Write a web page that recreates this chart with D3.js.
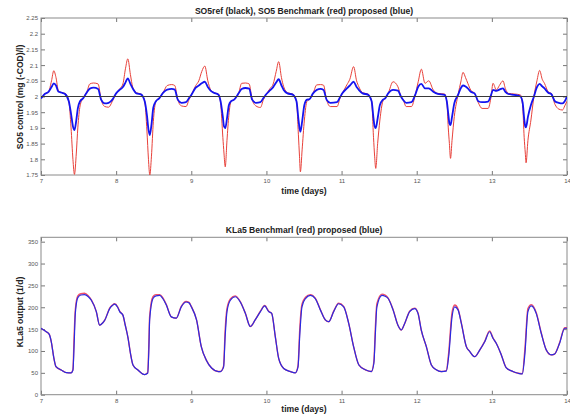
<!DOCTYPE html>
<html>
<head>
<meta charset="utf-8">
<script src="https://cdn.jsdelivr.net/npm/d3@7"></script>
<style>
body { margin: 0; background: #fff; }
svg { font-family: "Liberation Sans", Arial, sans-serif; }
.tick text { fill: #555; font-size: 6px; }
.domain { display: none; }
.tick line { stroke: #777; }
.title { font-size: 8.6px; font-weight: bold; fill: #222; text-anchor: middle; }
</style>
</head>
<body>
<div class="svg-wrap"></div>
<script>
// tick labels
const dayTicks = [7, 8, 9, 10, 11, 12, 13, 14];
const so5Ticks = [1.75, 1.8, 1.85, 1.9, 1.95, 2, 2.05, 2.1, 2.15, 2.2, 2.25];
const klaTicks = [0, 50, 100, 150, 200, 250, 300, 350];

// SO5 reference (black)
const so5RefTimes = [7, 14];
const so5Ref = [2, 2];

// SO5 benchmark (red) and proposed (blue), one line per day
const so5Times = [
  7.00, 7.05, 7.10, 7.14, 7.17, 7.20, 7.23, 7.28, 7.32, 7.37, 7.40, 7.425, 7.445, 7.47, 7.49, 7.52, 7.56, 7.61, 7.65, 7.70, 7.76, 7.80, 7.85, 7.90, 7.95,
  8.00, 8.05, 8.09, 8.125, 8.155, 8.19, 8.22, 8.27, 8.33, 8.38, 8.41, 8.43, 8.448, 8.47, 8.495, 8.53, 8.57, 8.63, 8.68, 8.74, 8.78, 8.82, 8.87, 8.93, 8.97,
  9.00, 9.06, 9.10, 9.14, 9.18, 9.22, 9.26, 9.30, 9.36, 9.39, 9.42, 9.435, 9.452, 9.475, 9.50, 9.53, 9.57, 9.63, 9.67, 9.72, 9.77, 9.81, 9.86, 9.92, 9.96,
  10.00, 10.05, 10.09, 10.13, 10.163, 10.20, 10.23, 10.28, 10.35, 10.40, 10.425, 10.44, 10.452, 10.475, 10.505, 10.54, 10.57, 10.62, 10.67, 10.72, 10.76, 10.80, 10.85, 10.94, 10.98,
  11.01, 11.07, 11.11, 11.16, 11.20, 11.23, 11.28, 11.35, 11.40, 11.425, 11.44, 11.455, 11.48, 11.51, 11.55, 11.58, 11.62, 11.685, 11.75, 11.79, 11.82, 11.86, 11.93, 11.98,
  12.02, 12.062, 12.11, 12.16, 12.22, 12.28, 12.37, 12.40, 12.42, 12.435, 12.45, 12.47, 12.50, 12.55, 12.59, 12.616, 12.65, 12.68, 12.72, 12.77, 12.82, 12.87, 12.95, 12.99,
  13.015, 13.06, 13.10, 13.148, 13.18, 13.22, 13.30, 13.38, 13.41, 13.43, 13.445, 13.455, 13.48, 13.52, 13.56, 13.60, 13.636, 13.67, 13.70, 13.75, 13.79, 13.84, 13.89, 13.94, 13.97, 14.00
];
const so5Bench = [
  1.995, 2.008, 2.015, 2.05, 2.082, 2.06, 2.02, 2.012, 2.01, 1.985, 1.90, 1.80, 1.752, 1.82, 1.90, 1.97, 1.995, 2.015, 2.04, 2.043, 2.040, 1.99, 1.968, 1.966, 1.985,
  2.01, 2.025, 2.04, 2.09, 2.12, 2.07, 2.03, 2.012, 2.008, 1.985, 1.89, 1.80, 1.75, 1.81, 1.92, 1.985, 1.995, 2.015, 2.035, 2.038, 2.035, 1.99, 1.97, 1.968, 1.99,
  2.005, 2.035, 2.05, 2.08, 2.097, 2.05, 2.02, 2.012, 2.008, 1.98, 1.87, 1.82, 1.776, 1.86, 1.94, 1.985, 1.99, 2.01, 2.042, 2.043, 2.04, 1.99, 1.97, 1.965, 1.99,
  2.008, 2.026, 2.04, 2.08, 2.111, 2.06, 2.031, 2.012, 2.008, 1.985, 1.88, 1.81, 1.76, 1.83, 1.925, 1.985, 1.99, 2.01, 2.037, 2.038, 2.036, 1.99, 1.968, 1.968, 1.995,
  2.01, 2.037, 2.055, 2.095, 2.05, 2.031, 2.012, 2.008, 1.985, 1.87, 1.81, 1.771, 1.85, 1.925, 1.985, 1.994, 2.01, 2.047, 2.031, 2.0, 1.989, 1.968, 1.968, 2.005,
  2.047, 2.087, 2.042, 2.05, 2.021, 2.01, 2.008, 1.985, 1.90, 1.85, 1.803, 1.86, 1.936, 2.005, 2.05, 2.077, 2.06, 2.042, 2.02, 2.01, 1.98, 1.962, 1.962, 2.0,
  2.042, 2.021, 2.035, 2.05, 2.025, 2.01, 2.008, 2.005, 1.97, 1.87, 1.82, 1.789, 1.86, 1.925, 2.0, 2.05, 2.083, 2.055, 2.042, 2.015, 2.01, 1.975, 1.96, 1.957, 1.97, 1.985
];
const so5Prop = [
  1.994, 2.008, 2.015, 2.03, 2.042, 2.035, 2.016, 2.012, 2.008, 1.985, 1.945, 1.905, 1.893, 1.925, 1.962, 1.985, 1.994, 2.013, 2.025, 2.028, 2.024, 1.99, 1.978, 1.98, 1.99,
  2.01, 2.022, 2.03, 2.045, 2.058, 2.04, 2.026, 2.01, 2.007, 1.985, 1.94, 1.895, 1.877, 1.91, 1.965, 1.985, 1.993, 2.013, 2.022, 2.024, 2.022, 1.99, 1.98, 1.982, 1.995,
  2.005, 2.028, 2.035, 2.042, 2.047, 2.03, 2.018, 2.012, 2.006, 1.985, 1.935, 1.905, 1.899, 1.93, 1.972, 1.985, 1.99, 2.01, 2.024, 2.027, 2.025, 1.99, 1.98, 1.982, 1.995,
  2.008, 2.02, 2.03, 2.045, 2.055, 2.035, 2.021, 2.01, 2.006, 1.985, 1.93, 1.9, 1.888, 1.92, 1.973, 1.99, 1.991, 2.01, 2.021, 2.024, 2.021, 1.99, 1.98, 1.982, 1.998,
  2.01, 2.026, 2.035, 2.047, 2.03, 2.021, 2.01, 2.006, 1.985, 1.93, 1.905, 1.899, 1.93, 1.973, 1.99, 1.994, 2.01, 2.021, 2.019, 2.0, 1.989, 1.98, 1.982, 2.005,
  2.031, 2.04, 2.026, 2.026, 2.015, 2.008, 2.005, 1.985, 1.945, 1.915, 1.909, 1.935, 1.978, 2.005, 2.028, 2.035, 2.032, 2.026, 2.015, 2.01, 1.985, 1.982, 1.984, 2.005,
  2.021, 2.018, 2.022, 2.026, 2.015, 2.008, 2.005, 2.0, 1.98, 1.93, 1.905, 1.902, 1.935, 1.973, 2.0, 2.03, 2.04, 2.032, 2.026, 2.012, 2.008, 1.985, 1.98, 1.978, 1.985, 2.0
];

// KLa5 benchmark (red) and proposed (blue)
const klaTimes = [
  7.00, 7.07, 7.11, 7.137, 7.17, 7.20, 7.27, 7.337, 7.40, 7.425, 7.44, 7.457, 7.49, 7.53, 7.58, 7.63, 7.67, 7.736, 7.78, 7.82, 7.85, 7.914, 7.95, 7.98,
  8.02, 8.047, 8.09, 8.12, 8.158, 8.19, 8.224, 8.29, 8.38, 8.42, 8.435, 8.446, 8.49, 8.53, 8.58, 8.62, 8.668, 8.734, 8.80, 8.867, 8.93, 8.97,
  9.00, 9.07, 9.133, 9.20, 9.27, 9.36, 9.387, 9.43, 9.45, 9.475, 9.52, 9.586, 9.652, 9.72, 9.785, 9.85, 9.92, 9.977,
  10.03, 10.07, 10.118, 10.163, 10.23, 10.318, 10.384, 10.42, 10.445, 10.473, 10.52, 10.585, 10.65, 10.717, 10.784, 10.83, 10.895, 10.96,
  11.028, 11.095, 11.16, 11.23, 11.316, 11.396, 11.43, 11.45, 11.47, 11.538, 11.58, 11.62, 11.685, 11.75, 11.795, 11.84, 11.906, 11.973,
  12.017, 12.06, 12.128, 12.195, 12.26, 12.327, 12.394, 12.425, 12.47, 12.506, 12.55, 12.594, 12.66, 12.705, 12.772, 12.838, 12.905, 12.97,
  13.015, 13.06, 13.126, 13.19, 13.28, 13.35, 13.405, 13.44, 13.48, 13.525, 13.59, 13.658, 13.725, 13.79, 13.835, 13.90, 13.97, 14.00
];
const klaBench = [
  152, 144, 138, 121, 85, 64, 56.5, 50.5, 50, 58, 130, 195, 226, 231, 232, 226, 217, 190, 159, 164, 171, 198, 205, 208,
  201, 191, 182, 160, 130, 95, 68, 56.5, 46, 51, 115, 180, 224, 229, 229, 222, 206, 178, 175, 202, 213, 211,
  202, 171, 110, 79, 61, 53, 53, 66, 145, 197, 219, 226, 213, 186, 156, 171, 191, 204,
  191, 186, 133, 83, 60, 53, 50, 66, 155, 207, 223, 229, 221, 195, 171, 167, 191, 209,
  202, 163, 110, 68, 57, 53, 76, 155, 208, 230, 228, 221, 195, 159, 148, 163, 191, 198,
  187, 148, 110, 68, 57, 53, 55, 95, 188, 205, 196, 164, 110, 99, 87, 102, 122, 146,
  130, 117, 91, 62, 53, 49, 48, 105, 197, 206, 188, 141, 102, 91, 93, 118, 153, 153
];
const klaProp = [
  152, 144, 138, 121, 85, 64, 56.5, 50.5, 50, 56, 110, 186, 222, 228, 229, 224, 216, 190, 159, 164, 171, 197, 204, 207,
  200, 190, 182, 160, 130, 95, 68, 56.5, 46, 49, 100, 171, 220, 226, 227, 220, 205, 178, 175, 201, 212, 210,
  201, 171, 110, 79, 61, 53, 53, 63, 130, 190, 216, 224, 212, 186, 156, 171, 190, 203,
  190, 186, 133, 83, 60, 53, 50, 63, 140, 201, 220, 227, 220, 194, 171, 167, 190, 208,
  201, 163, 110, 68, 57, 53, 72, 140, 201, 227, 225, 220, 194, 159, 148, 163, 190, 197,
  186, 148, 110, 68, 57, 53, 54, 87, 178, 201, 194, 163, 110, 99, 87, 102, 121, 144,
  129, 117, 91, 62, 53, 49, 47.5, 94, 190, 203, 186, 140, 102, 91, 93, 117, 152, 152
];

var width = 570, height = 415;
var plotLeft = 41, plotRight = 567;

var svg = d3.select(".svg-wrap")
  .append("svg")
  .attr("width", width)
  .attr("height", height)
  .style("background-color", "white");

function drawPanel(opts) {
  var x = d3.scaleLinear().domain([7, 14]).range([plotLeft, plotRight]);
  var y = d3.scaleLinear().domain(opts.yDomain).range([opts.bottom, opts.top]);
  var g = svg.append("g");

  // ticks, MATLAB style (inward, all four sides)
  g.append("g")
    .attr("transform", `translate(0,${opts.bottom})`)
    .call(d3.axisBottom(x).tickValues(dayTicks).tickFormat(d => d).tickSizeInner(-4).tickSizeOuter(0).tickPadding(4));
  g.append("g")
    .attr("transform", `translate(0,${opts.top})`)
    .call(d3.axisTop(x).tickValues(dayTicks).tickFormat("").tickSizeInner(-4).tickSizeOuter(0));
  g.append("g")
    .attr("transform", `translate(${plotLeft},0)`)
    .call(d3.axisLeft(y).tickValues(opts.ticks).tickFormat(d => String(d)).tickSizeInner(-4).tickSizeOuter(0).tickPadding(3));
  g.append("g")
    .attr("transform", `translate(${plotRight},0)`)
    .call(d3.axisRight(y).tickValues(opts.ticks).tickFormat("").tickSizeInner(-4).tickSizeOuter(0));

  g.append("rect")
    .attr("x", plotLeft)
    .attr("y", opts.top)
    .attr("width", plotRight - plotLeft)
    .attr("height", opts.bottom - opts.top)
    .attr("fill", "none")
    .attr("stroke", "#8a8a8a")
    .attr("stroke-width", 1);

  var clipId = "clip" + opts.top.toFixed(0);
  g.append("clipPath").attr("id", clipId)
    .append("rect")
    .attr("x", plotLeft).attr("y", opts.top - 1)
    .attr("width", plotRight - plotLeft).attr("height", opts.bottom - opts.top + 2);

  var line = d3.line()
    .x(d => x(d[0]))
    .y(d => y(d[1]))
    .curve(d3.curveMonotoneX);

  opts.series.forEach(s => {
    g.append("path")
      .datum(d3.zip(s.times, s.values))
      .attr("clip-path", `url(#${clipId})`)
      .attr("fill", "none")
      .attr("stroke", s.color)
      .attr("stroke-width", s.width)
      .attr("stroke-linejoin", "round")
      .attr("d", line);
  });

  svg.append("text")
    .attr("class", "title")
    .attr("x", 304)
    .attr("y", opts.top - 4)
    .text(opts.title);

  svg.append("text")
    .attr("class", "title")
    .attr("x", 304)
    .attr("y", opts.bottom + opts.xLabelGap)
    .text("time (days)");

  svg.append("text")
    .attr("class", "title")
    .attr("transform", `translate(23,${opts.yLabelMid}) rotate(-90)`)
    .text(opts.yLabel);
}

drawPanel({
  top: 18,
  bottom: 175,
  yDomain: [1.75, 2.25],
  ticks: so5Ticks,
  xLabelGap: 19,
  yLabelMid: 97,
  title: "SO5ref (black), SO5 Benchmark (red) proposed (blue)",
  yLabel: "SO5 control (mg (-COD)/l)",
  series: [
    { times: so5Times, values: so5Bench, color: "#e8413a", width: 1 },
    { times: so5Times, values: so5Prop, color: "#1414f0", width: 1.8 },
    { times: so5RefTimes, values: so5Ref, color: "#3a3a3a", width: 1 }
  ]
});

drawPanel({
  top: 237.3,
  bottom: 394.7,
  yDomain: [0, 360],
  ticks: klaTicks,
  xLabelGap: 17,
  yLabelMid: 312,
  title: "KLa5 Benchmarl (red) proposed (blue)",
  yLabel: "KLa5 output (1/d)",
  series: [
    { times: klaTimes, values: klaBench, color: "#f0506a", width: 1.4 },
    { times: klaTimes, values: klaProp, color: "#2a2ae0", width: 1.2 }
  ]
});
</script>
</body>
</html>
